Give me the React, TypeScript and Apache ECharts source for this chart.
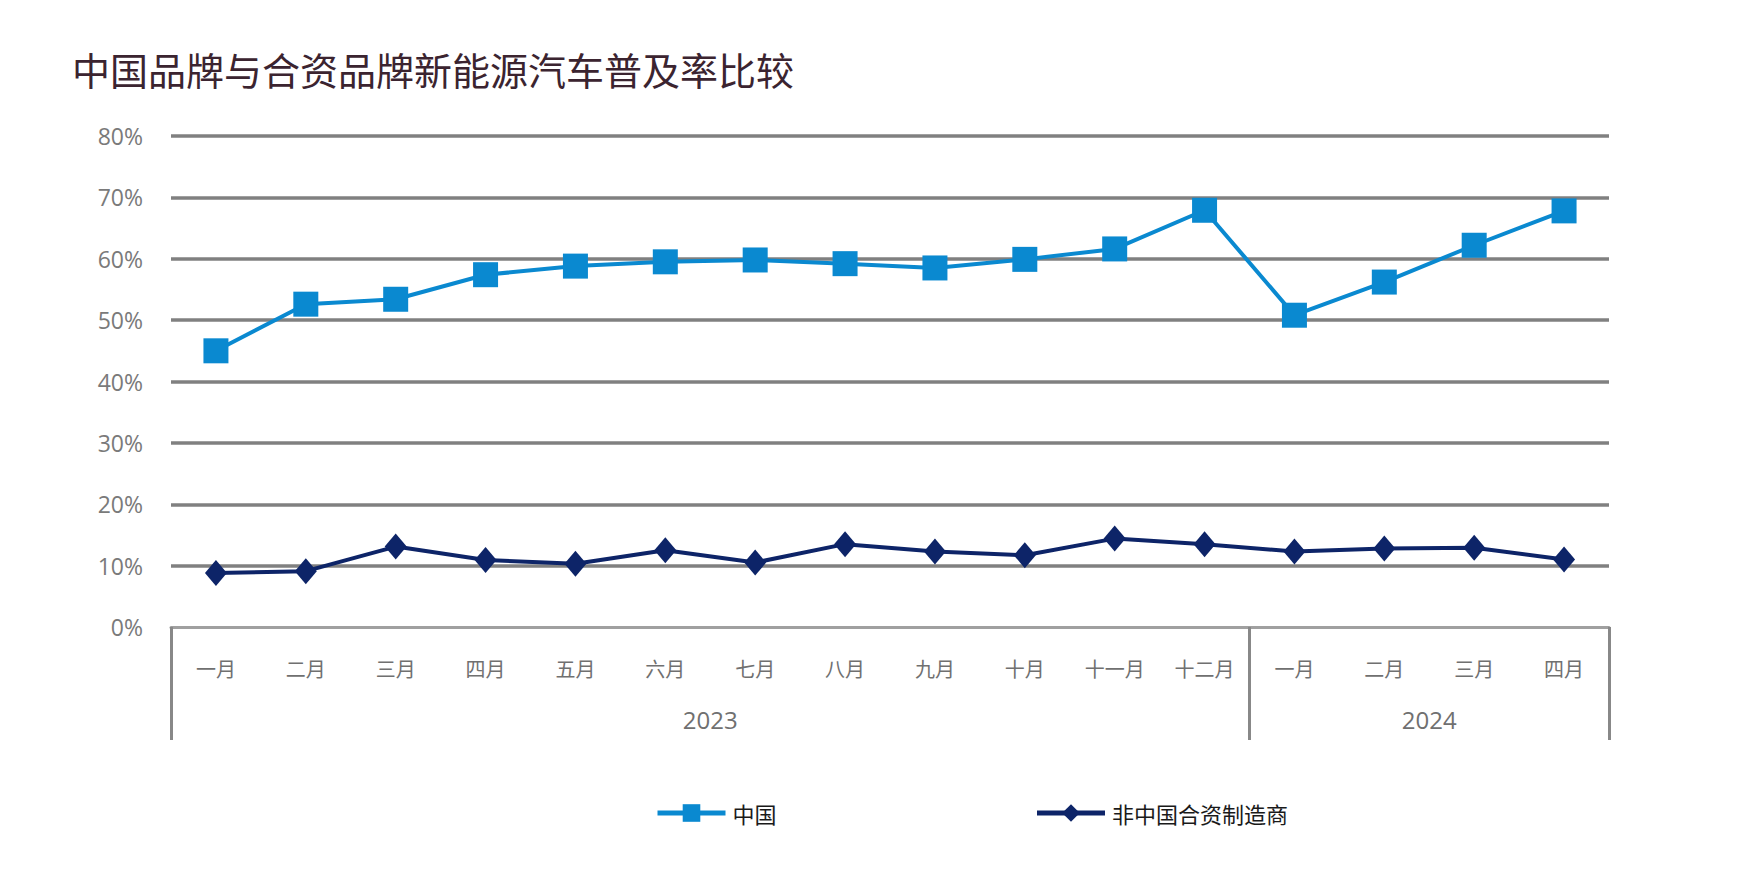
import React, { useEffect, useRef } from "react";
import * as echarts from "echarts";

const TITLE = "中国品牌与合资品牌新能源汽车普及率比较";
const months = [
  "一月", "二月", "三月", "四月", "五月", "六月", "七月", "八月",
  "九月", "十月", "十一月", "十二月", "一月", "二月", "三月", "四月",
];
const yearLabels = ["2023", "2024"];
const yearMonthCounts = [12, 4];
const seriesNames = ["中国", "非中国合资制造商"];
const chinaValues = [45.0, 52.6, 53.4, 57.4, 58.8, 59.5, 59.8, 59.2, 58.5, 59.9, 61.6, 67.9, 50.8, 56.2, 62.2, 67.8];
const jvValues = [8.8, 9.1, 13.1, 10.9, 10.3, 12.5, 10.5, 13.5, 12.3, 11.7, 14.4, 13.5, 12.3, 12.8, 12.9, 11.0];
const yTicks = [0, 10, 20, 30, 40, 50, 60, 70, 80];

export default function App() {
  const ref = useRef<HTMLDivElement>(null);
  useEffect(() => {
    document.body.style.margin = "0";
    const chart = echarts.init(ref.current!, null, { renderer: "svg" });
    const boundaries: number[] = [0];
    yearMonthCounts.forEach((c) => boundaries.push(boundaries[boundaries.length - 1] + c));
    const centers = yearMonthCounts.map((c, i) => boundaries[i] + c / 2);
    const cjk = "'Noto Sans CJK SC', sans-serif";
    chart.setOption({
      animation: false,
      backgroundColor: "#ffffff",
      title: {
        text: TITLE,
        left: 67,
        top: 44,
        textStyle: { fontFamily: cjk, fontSize: 38, fontWeight: "normal", color: "#3b2430" },
      },
      legend: {
        left: 650,
        top: 797,
        itemWidth: 68,
        itemHeight: 22,
        itemGap: 258,
        lineStyle: { width: 5 },
        textStyle: { fontFamily: cjk, fontSize: 22, color: "#1a1a1a", padding: [4, 0, 0, 2] },
        data: seriesNames,
      },
      grid: { left: 171, right: 139, top: 136, bottom: 265, containLabel: false },
      xAxis: [
        {
          type: "category",
          data: months,
          position: "bottom",
          boundaryGap: true,
          axisLine: { show: true, lineStyle: { color: "#a0a0a0", width: 3 } },
          axisTick: { show: false },
          axisLabel: {
            interval: 0,
            margin: 31,
            fontFamily: cjk,
            fontSize: 20,
            color: "#707070",
          },
          splitLine: { show: false },
        },
        {
          type: "value",
          min: 0,
          max: boundaries[boundaries.length - 1],
          position: "bottom",
          offset: 0,
          axisLine: { show: false },
          splitLine: { show: false },
          axisTick: {
            show: true,
            inside: false,
            length: 113,
            customValues: boundaries,
            lineStyle: { color: "#888888", width: 3 },
          },
          axisLabel: {
            show: true,
            customValues: centers,
            margin: 80,
            fontFamily: "'Open Sans', sans-serif",
            fontSize: 24,
            color: "#707070",
            formatter: (v: number) => {
              const i = centers.indexOf(v);
              return i >= 0 ? yearLabels[i] : "";
            },
          },
        },
      ],
      yAxis: {
        type: "value",
        min: yTicks[0],
        max: yTicks[yTicks.length - 1],
        interval: 10,
        axisLine: { show: false },
        axisTick: { show: false },
        axisLabel: {
          margin: 28,
          fontFamily: "'Open Sans', sans-serif",
          fontSize: 23,
          color: "#7a7a7a",
          formatter: "{value}%",
        },
        splitLine: { show: true, showMinLine: false, lineStyle: { color: "#808080", width: 3.5 } },
      },
      series: [
        {
          name: seriesNames[0],
          type: "line",
          xAxisIndex: 0,
          data: chinaValues,
          symbol: "rect",
          symbolSize: 25,
          lineStyle: { color: "#0a89d0", width: 4 },
          itemStyle: { color: "#0a89d0" },
          z: 3,
        },
        {
          name: seriesNames[1],
          type: "line",
          xAxisIndex: 0,
          data: jvValues,
          symbol: "diamond",
          symbolSize: [22, 26],
          lineStyle: { color: "#0d2468", width: 4 },
          itemStyle: { color: "#0d2468" },
          z: 3,
        },
      ],
    });
    return () => chart.dispose();
  }, []);
  return <div ref={ref} style={{ width: 1748, height: 892 }} />;
}
